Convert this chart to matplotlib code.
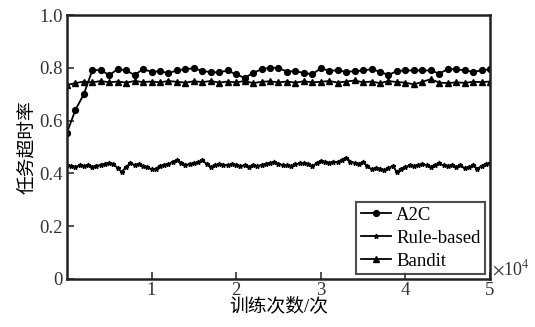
import numpy as np
import matplotlib
matplotlib.use("Agg")
import matplotlib.pyplot as plt
from matplotlib.ticker import FuncFormatter

plt.rcParams['font.family'] = ['Liberation Serif', 'Noto Sans CJK SC']
plt.rcParams['mathtext.fontset'] = 'stix'

# Training episodes (step 1000 for A2C / Bandit, step 500 for Rule-based)
episodes_coarse = np.arange(0, 50001, 1000)
episodes_fine = np.arange(0, 50001, 500)

a2c = [0.553, 0.640, 0.700, 0.790, 0.792, 0.772, 0.795, 0.790, 0.773, 0.795,
       0.785, 0.787, 0.780, 0.790, 0.795, 0.798, 0.789, 0.783, 0.783, 0.790,
       0.775, 0.762, 0.780, 0.795, 0.800, 0.800, 0.785, 0.788, 0.780, 0.776,
       0.798, 0.789, 0.790, 0.785, 0.787, 0.790, 0.795, 0.785, 0.773, 0.788,
       0.790, 0.790, 0.790, 0.790, 0.778, 0.795, 0.795, 0.790, 0.785, 0.790,
       0.795]

bandit = [0.735, 0.742, 0.748, 0.745, 0.750, 0.745, 0.748, 0.744, 0.750, 0.746,
          0.748, 0.745, 0.750, 0.747, 0.744, 0.749, 0.746, 0.750, 0.744, 0.748,
          0.745, 0.750, 0.742, 0.747, 0.749, 0.745, 0.748, 0.744, 0.749, 0.745,
          0.747, 0.750, 0.744, 0.748, 0.752, 0.745, 0.748, 0.742, 0.750, 0.746,
          0.744, 0.737, 0.747, 0.757, 0.744, 0.742, 0.745, 0.743, 0.747, 0.746,
          0.748]

rule_based = [0.430, 0.428, 0.425, 0.430, 0.427, 0.432, 0.425, 0.428, 0.433, 0.437,
              0.440, 0.435, 0.420, 0.405, 0.425, 0.438, 0.432, 0.436, 0.428, 0.425,
              0.415, 0.418, 0.428, 0.432, 0.435, 0.445, 0.450, 0.440, 0.432, 0.435,
              0.438, 0.442, 0.450, 0.436, 0.424, 0.430, 0.436, 0.433, 0.431, 0.434,
              0.432, 0.428, 0.430, 0.426, 0.430, 0.428, 0.432, 0.437, 0.440, 0.442,
              0.436, 0.432, 0.430, 0.428, 0.434, 0.438, 0.440, 0.436, 0.428, 0.438,
              0.448, 0.444, 0.440, 0.445, 0.442, 0.452, 0.460, 0.445, 0.440, 0.437,
              0.442, 0.428, 0.415, 0.420, 0.418, 0.412, 0.420, 0.428, 0.405, 0.418,
              0.425, 0.430, 0.428, 0.432, 0.436, 0.430, 0.425, 0.433, 0.438, 0.430,
              0.428, 0.432, 0.425, 0.430, 0.420, 0.425, 0.430, 0.418, 0.428, 0.435,
              0.440]

x_ticks = [10000, 20000, 30000, 40000, 50000]
y_ticks = [0, 0.2, 0.4, 0.6, 0.8, 1.0]
y_tick_labels = ['0', '0.2', '0.4', '0.6', '0.8', '1.0']

fig = plt.figure(figsize=(5.35, 3.27), dpi=100)
ax = fig.add_axes([0.125, 0.147, 0.791, 0.807])

ax.plot(episodes_coarse, a2c, color='black', lw=1.3, marker='o', ms=4.2, label='A2C')
ax.plot(episodes_fine, rule_based, color='black', lw=1.3, marker='*', ms=3.5, label='Rule-based')
ax.plot(episodes_coarse, bandit, color='black', lw=1.3, marker='^', ms=4.2, label='Bandit')

ax.set_xlim(0, 50000)
ax.set_ylim(0, 1.0)
ax.set_xticks(x_ticks)
ax.xaxis.set_major_formatter(FuncFormatter(lambda v, p: f"{v / 1e4:g}"))
ax.set_yticks(y_ticks)
ax.set_yticklabels(y_tick_labels)
ax.tick_params(direction='in', length=5, width=1.2, labelsize=13.5, colors='#333333',
               top=False, right=False)
ax.tick_params(axis='x', pad=2)
ax.tick_params(axis='y', pad=3)
for s in ax.spines.values():
    s.set_linewidth(1.8)
    s.set_color('#222222')

ax.text(1.005, 0.0, r'$\times$10$^4$', transform=ax.transAxes, fontsize=13,
        color='#333333', ha='left', va='bottom')

ax.set_xlabel('训练次数/次', fontsize=13.5, labelpad=-1)
ax.set_ylabel('任务超时率', fontsize=13.5, labelpad=2)

leg = ax.legend(loc='lower right', fontsize=13.5, frameon=True, fancybox=False,
                edgecolor='#222222', handlelength=1.6, handletextpad=0.3,
                borderpad=0.25, labelspacing=0.3, borderaxespad=0.25)
leg.get_frame().set_linewidth(1.5)

fig.savefig('out.png', dpi=100)
